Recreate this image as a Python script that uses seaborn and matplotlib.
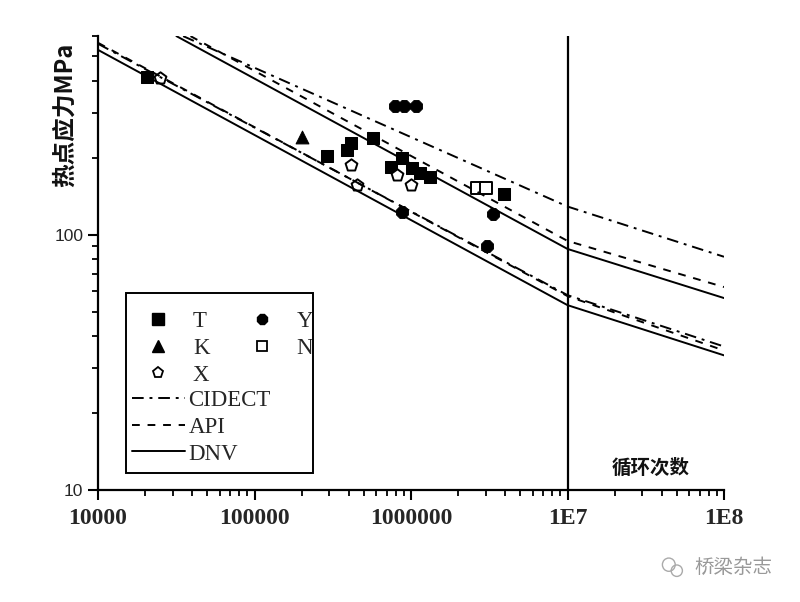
import matplotlib
matplotlib.use('Agg')
import matplotlib.pyplot as plt
import matplotlib.patches as mpatches
from matplotlib.lines import Line2D
from matplotlib.ticker import FixedLocator, LogLocator, NullFormatter
import seaborn as sns

## design curves (cycles, hot spot stress MPa)
cidect_hi_n = [3.5e4, 1e7, 1e8]
cidect_hi_s = [600, 129, 82]
api_hi_n    = [3.9e4, 1e7, 1e8]
api_hi_s    = [600, 94.6, 62.4]
dnv_hi_n    = [3.17e4, 1e7, 1e8]
dnv_hi_s    = [600, 88, 56.5]

cidect_lo_n = [1e4, 1e7, 1e8]
cidect_lo_s = [560, 58, 36.5]
api_lo_n    = [1e4, 1e7, 1e8]
api_lo_s    = [565, 57.5, 35.2]
dnv_lo_n    = [1e4, 1e7, 1e8]
dnv_lo_s    = [530, 53, 33.7]

## test results per joint type
t_n = [2.05e4, 2.90e5, 3.90e5, 4.14e5, 5.71e5, 7.45e5, 8.75e5, 1.01e6, 1.14e6, 1.32e6, 3.93e6]
t_s = [415, 203, 214, 228, 239, 185, 199, 182, 175, 168, 144]
y_n = [7.91e5, 9.02e5, 1.08e6, 8.75e5, 3.34e6, 3.06e6]
y_s = [319, 319, 319, 123, 121, 90.6]
k_n = [2.01e5]
k_s = [241]
x_n = [2.49e4, 4.14e5, 4.52e5, 8.15e5, 1.0e6]
x_s = [411, 187, 157, 171, 157]
nn_n = [2.64e6, 3.01e6]
nn_s = [152, 152]

x_ticks = [1e4, 1e5, 1e6, 1e7, 1e8]
x_tick_labels = ['10000', '100000', '1000000', '1E7', '1E8']
y_ticks = [10, 100]
y_tick_labels = ['10', '100']

sns.set_theme(style='white')
plt.rcParams['font.family'] = ['Liberation Serif', 'Noto Sans CJK SC', 'DejaVu Sans']
cjk = ['Noto Sans CJK SC', 'DejaVu Sans']

fig = plt.figure(figsize=(8, 6.02), dpi=100)
ax = fig.add_axes([0.1225, 0.186, 0.7825, 0.754])
ax.set_xscale('log')
ax.set_yscale('log')

dashdot = (0, (6, 3, 1.5, 3))
dashed = (0, (4, 4))
for n, s, ls in [(cidect_hi_n, cidect_hi_s, dashdot), (api_hi_n, api_hi_s, dashed), (dnv_hi_n, dnv_hi_s, '-'),
                 (cidect_lo_n, cidect_lo_s, dashdot), (api_lo_n, api_lo_s, dashed), (dnv_lo_n, dnv_lo_s, '-')]:
    sns.lineplot(x=n, y=s, ax=ax, color='black', lw=1.4, linestyle=ls)

ax.axvline(1e7, color='black', lw=1.6)

sns.scatterplot(x=t_n, y=t_s, ax=ax, marker='s', s=85, color='black', edgecolor='black')
sns.scatterplot(x=y_n, y=y_s, ax=ax, marker='8', s=85, color='black', edgecolor='black')
sns.scatterplot(x=k_n, y=k_s, ax=ax, marker='^', s=85, color='black', edgecolor='black')
sns.scatterplot(x=x_n, y=x_s, ax=ax, marker='p', s=80, color='white', edgecolor='black', linewidth=1.4)
sns.scatterplot(x=nn_n, y=nn_s, ax=ax, marker='s', s=70, color='white', edgecolor='black', linewidth=1.4)

ax.set_xlim(1e4, 1e8)
ax.set_ylim(10, 600)
for side in ['top', 'right']:
    ax.spines[side].set_visible(False)
for side in ['left', 'bottom']:
    ax.spines[side].set_color('black')
    ax.spines[side].set_linewidth(1.6)

ax.xaxis.set_major_locator(FixedLocator(x_ticks))
ax.set_xticklabels(x_tick_labels, fontsize=17, fontweight='bold', family='Liberation Serif')
ax.xaxis.set_minor_locator(LogLocator(base=10, subs=range(2, 10)))
ax.xaxis.set_minor_formatter(NullFormatter())
ax.yaxis.set_major_locator(FixedLocator(y_ticks))
ax.set_yticklabels(y_tick_labels, fontsize=12.5, family='Liberation Sans')
ax.yaxis.set_minor_locator(LogLocator(base=10, subs=range(2, 10)))
ax.yaxis.set_minor_formatter(NullFormatter())
ax.tick_params(which='major', direction='out', length=7, width=1.5, color='black', bottom=True, left=True)
ax.tick_params(which='minor', direction='out', length=4, width=1.3, color='black', bottom=True, left=True)
ax.tick_params(axis='x', pad=6)
ax.set_xlabel('')
ax.set_ylabel('')

ax.text(-0.053, 0.985, '热点应力MPa', rotation=90, va='top', ha='center', transform=ax.transAxes,
        fontsize=17, fontweight='bold', family=cjk, color='#111111')
ax.text(0.883, 0.048, '循环次数', va='center', ha='center', transform=ax.transAxes,
        fontsize=14, fontweight='bold', family=cjk, color='#111111')

## legend: markers in two columns, lines below, one frame round both
mk = dict(color='black', linestyle='none', markersize=8)
mark_handles = [Line2D([], [], marker='s', mfc='black', mec='black', **mk),
                Line2D([], [], marker='^', mfc='black', mec='black', **mk),
                Line2D([], [], marker='p', mfc='white', mec='black', mew=1.3, **mk),
                Line2D([], [], marker='8', mfc='black', mec='black', **mk),
                Line2D([], [], marker='s', mfc='white', mec='black', mew=1.3, markersize=7, color='black', linestyle='none')]
leg1 = ax.legend(mark_handles, ['T', 'K', 'X', 'Y', 'N'], ncol=2, loc='upper left',
                 bbox_to_anchor=(0.06, 0.414), frameon=False, handlelength=1.2,
                 handletextpad=0.9, labelspacing=0.25, columnspacing=1.7, borderaxespad=0,
                 prop={'family': 'Liberation Serif', 'size': 16.5})
ax.add_artist(leg1)
line_handles = [Line2D([], [], color='black', lw=1.4, linestyle=dashdot),
                Line2D([], [], color='black', lw=1.4, linestyle=dashed),
                Line2D([], [], color='black', lw=1.4, linestyle='-')]
ax.legend(line_handles, ['CIDECT', 'API', 'DNV'], loc='lower left', bbox_to_anchor=(0.04, 0.036),
          frameon=False, handlelength=2.3, handletextpad=0.15, labelspacing=0.25, borderaxespad=0,
          prop={'family': 'Liberation Serif', 'size': 16.5})
ax.add_patch(mpatches.Rectangle((0.045, 0.037), 0.299, 0.397, transform=ax.transAxes,
                                fill=False, lw=1.4, ec='black', zorder=5))

## watermark
fig.text(0.868, 0.057, '桥梁杂志', fontsize=14, color='#999999', family=cjk, va='center', ha='left')
fig.patches.append(mpatches.Ellipse((0.836, 0.062), 0.016, 0.022, transform=fig.transFigure,
                                    fill=False, ec='#aaaaaa', lw=1.0))
fig.patches.append(mpatches.Ellipse((0.846, 0.052), 0.014, 0.019, transform=fig.transFigure,
                                    fill=False, ec='#aaaaaa', lw=1.0))

fig.savefig('out.png', dpi=100)
